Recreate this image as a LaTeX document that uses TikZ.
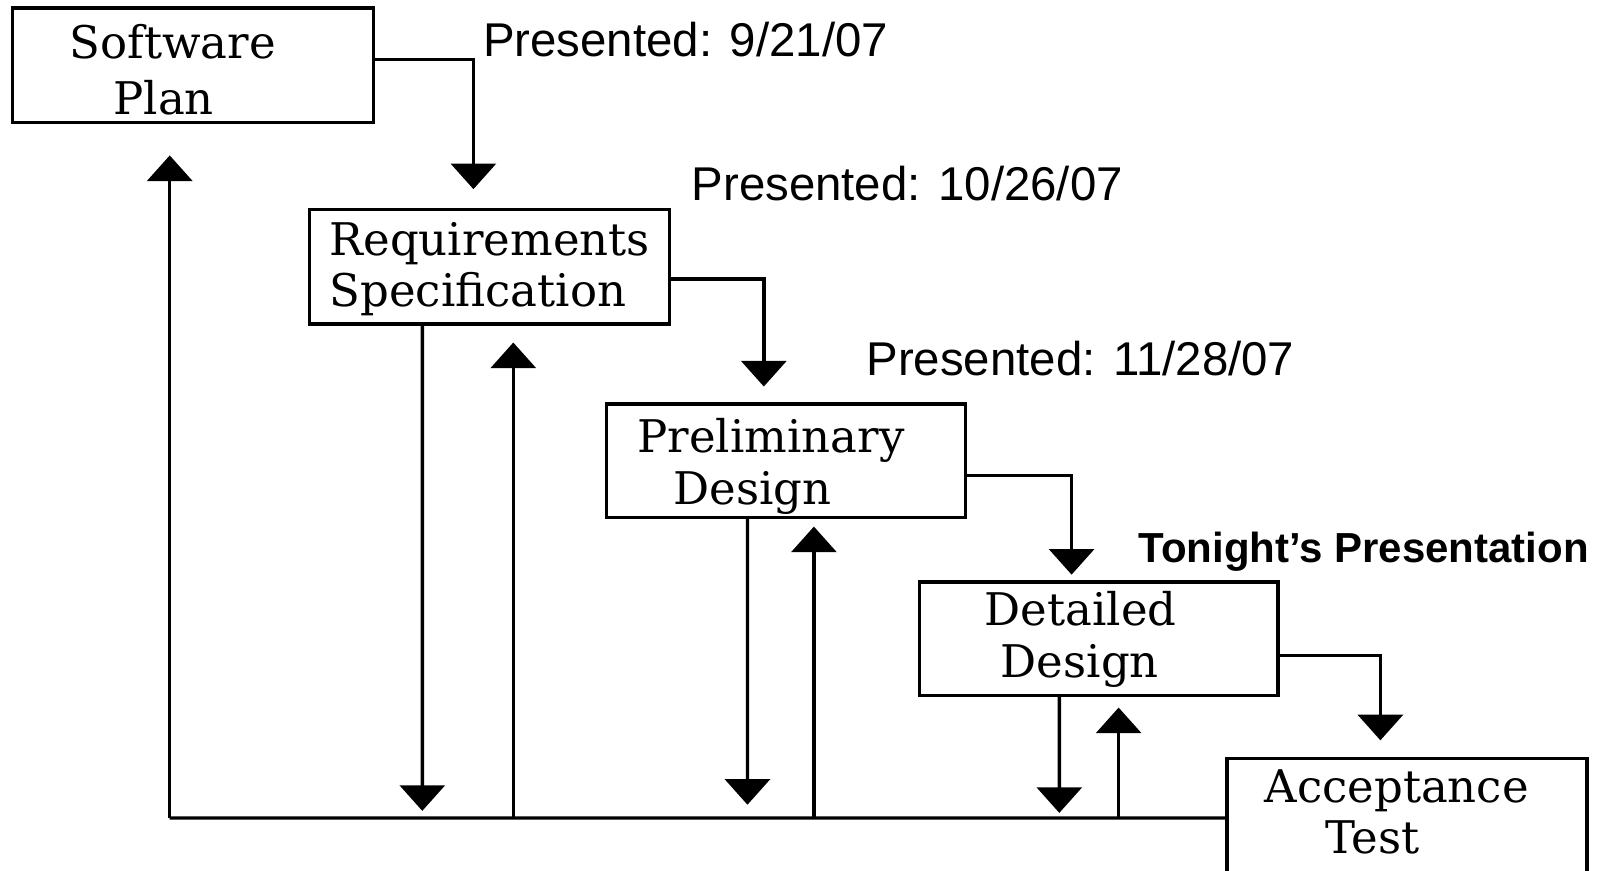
\documentclass[tikz,border=0pt]{standalone}
\usepackage{fontspec}
\setmainfont{DejaVu Serif}
\newfontfamily\labfont{Liberation Sans}
\usetikzlibrary{arrows.meta}
\begin{document}
\begin{tikzpicture}[x=0.51125pt,y=-0.51125pt,
  box/.style={draw,line width=1.7pt,inner sep=0pt,rectangle},
  boxtxt/.style={font=\fontsize{22.5}{27}\selectfont,inner sep=0pt,anchor=base},
  lab/.style={font=\labfont\fontsize{23.7}{28}\selectfont,inner sep=0pt,anchor=base west},
  conn/.style={line width=1.7pt},
  arr/.style={line width=1.7pt,-{Triangle[width=22.5pt,length=12.8pt]}}]
\useasboundingbox (0,0) rectangle (1568.7,851.8);
\begin{scope}
\clip (0,0) rectangle (1568.7,851.8);
% boxes
\node[box,minimum width=180.5pt,minimum height=57.3pt] (sp) at (188.5,64) {};
\node[box,minimum width=180pt,minimum height=57.3pt] (rs) at (479,261) {};
\node[box,minimum width=179.4pt,minimum height=56.7pt] (pd) at (768.5,450.5) {};
\node[box,minimum width=179.4pt,minimum height=56.7pt] (dd) at (1074.5,624.5) {};
\node[box,minimum width=180pt,minimum height=71.6pt] (at) at (1376,812) {};
\end{scope}
% box texts
\node[boxtxt] (sp1) at (169,57) {Software};
\node[boxtxt] (sp2) at (160,112) {Plan};
\node[boxtxt,anchor=base west] (rs1) at (322,250) {Requirements};
\node[boxtxt,anchor=base west] (rs2) at (322,300) {Specification};
\node[boxtxt] (pd1) at (754,443) {Preliminary};
\node[boxtxt] (pd2) at (736,493) {Design};
\node[boxtxt] (dd1) at (1057,612) {Detailed};
\node[boxtxt] (dd2) at (1056,663) {Design};
\node[boxtxt] (at1) at (1366,785) {Acceptance};
\node[boxtxt] (at2) at (1342,835) {Test};
% labels
\node[lab] (l1) at (472,55) {Presented: 9/21/07};
\node[lab] (l2) at (676,196) {Presented: 10/26/07};
\node[lab] (l3) at (847,367) {Presented: 11/28/07};
\node[lab,font=\labfont\bfseries\fontsize{21}{25}\selectfont] (l4) at (1113,550) {Tonight’s Presentation};
% step arrows
\coordinate (t1) at (463,185);
\coordinate (t2) at (747,378);
\coordinate (t3) at (1048,562);
\coordinate (t4) at (1350,724);
\draw[arr] ([yshift=3.07pt]sp.east) -| (t1);
\draw[arr] ([yshift=-6.13pt]rs.east) -| (t2);
\draw[arr] ([yshift=-7.41pt]pd.east) -| (t3);
\draw[arr] ([yshift=-8.44pt]dd.east) -| (t4);
% bottom return line
\coordinate (c0) at (166,800);
\coordinate (top0) at (166,152);
\draw[conn] ([yshift=6.13pt]at.west) -- (c0);
\draw[arr] (c0) -- (top0);
% down arrows
\coordinate (d1) at (413,793);
\coordinate (d2) at (731,787);
\coordinate (d3) at (1036,795);
\draw[arr] ([xshift=-33.74pt]rs.south) -- (d1);
\draw[arr] ([xshift=-19.17pt]pd.south) -- (d2);
\draw[arr] ([xshift=-19.68pt]dd.south) -- (d3);
% up arrows
\coordinate (b1) at (502,800);
\coordinate (b2) at (796,800);
\coordinate (b3) at (1094,800);
\coordinate (u1) at (502,335);
\coordinate (u2) at (796,515);
\coordinate (u3) at (1094,692);
\draw[arr] (b1) -- (u1);
\draw[arr] (b2) -- (u2);
\draw[arr] (b3) -- (u3);
\end{tikzpicture}
\end{document}
